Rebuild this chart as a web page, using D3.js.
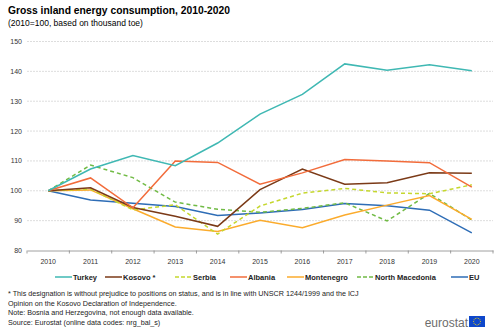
<!DOCTYPE html>
<html>
<head>
<meta charset="utf-8">
<script src="https://d3js.org/d3.v7.min.js"></script>
<style>
  body { margin: 0; background: #fff; }
  text { font-family: "Liberation Sans", Arial, sans-serif; }
</style>
</head>
<body>
<svg id="chart"></svg>
<script>
var years = ["2010","2011","2012","2013","2014","2015","2016","2017","2018","2019","2020"];
var yTicks = [80, 90, 100, 110, 120, 130, 140, 150];

var turkey      = [100, 107.3, 111.8, 108.4, 116.0, 125.7, 132.3, 142.5, 140.4, 142.2, 140.2];
var kosovo      = [100, 101.0, 94.4, 91.5, 88.1, 100.4, 107.3, 102.2, 102.7, 106.0, 105.9];
var serbia      = [100, 100.6, 93.6, 95.3, 85.5, 94.9, 99.2, 100.8, 99.3, 99.0, 102.0];
var albania     = [100, 104.3, 94.3, 110.0, 109.5, 102.2, 106.0, 110.5, 110.0, 109.4, 101.2];
var montenegro  = [100, 100.3, 94.0, 87.9, 86.4, 90.1, 87.6, 91.9, 95.2, 98.4, 90.4];
var nMacedonia  = [100, 108.6, 104.4, 96.2, 93.8, 92.8, 94.1, 96.0, 89.9, 99.1, 90.2];
var eu          = [100, 96.9, 95.8, 94.7, 91.7, 92.6, 93.7, 95.7, 95.0, 93.5, 85.9];

var seriesNames = ["Turkey", "Kosovo *", "Serbia", "Albania", "Montenegro", "North Macedonia", "EU"];
var seriesValues = [turkey, kosovo, serbia, albania, montenegro, nMacedonia, eu];
var seriesColors = ["#3fb8b3", "#7b3a17", "#c5d72e", "#f26c3b", "#fbab2c", "#71bb45", "#2e6db6"];
var seriesDashed = [false, false, true, false, false, true, false];

var footnotes = [
  "* This designation is without prejudice to positions on status, and is in line with UNSCR 1244/1999 and the ICJ",
  "Opinion on the Kosovo Declaration of Independence.",
  "Note: Bosnia and Herzegovina,  not enough data available.",
  "Source: Eurostat (online data codes: nrg_bal_s)"
];

var W = 500, H = 332;
var svg = d3.select("#chart").attr("width", W).attr("height", H);

// title block
svg.append("text").attr("x", 8).attr("y", 14)
  .style("font-size", "10.3px").style("font-weight", "bold").attr("fill", "#000")
  .text("Gross inland energy consumption, 2010-2020");
svg.append("text").attr("x", 8).attr("y", 26)
  .style("font-size", "8.5px").attr("fill", "#000")
  .text("(2010=100, based on thousand toe)");

var x = d3.scaleBand().domain(years).range([27, 493]).paddingInner(0).paddingOuter(0),
    y = d3.scaleLinear().domain([80, 150]).range([250.5, 41.5]);

function cx(yr) { return x(yr) + x.bandwidth() / 2; }

// grid
svg.append("g").selectAll("line")
  .data(yTicks.slice(1))
  .enter().append("line")
    .attr("x1", 27).attr("x2", 493)
    .attr("y1", function(d) { return y(d); })
    .attr("y2", function(d) { return y(d); })
    .attr("stroke", "#d4d4d4").attr("stroke-width", 0.8)
    .attr("stroke-dasharray", "2,1");

// y labels
svg.append("g").selectAll("text")
  .data(yTicks)
  .enter().append("text")
    .attr("x", 22)
    .attr("y", function(d) { return y(d); })
    .attr("dy", "0.35em")
    .attr("text-anchor", "end")
    .style("font-size", "7px").attr("fill", "#333")
    .text(function(d) { return d; });

// x axis
var xAxis = d3.axisBottom(x).tickSize(0).tickPadding(9);
var xg = svg.append("g").attr("transform", "translate(0," + y(80) + ")").call(xAxis);
xg.select(".domain").attr("stroke", "#888").attr("stroke-width", 0.8);
xg.selectAll("text").style("font-size", "7px").attr("fill", "#333")
  .style("font-family", "Liberation Sans, Arial, sans-serif");
xg.selectAll(".edge")
  .data(years.map(function(d) { return x(d); }).concat([x(years[years.length - 1]) + x.bandwidth()]))
  .enter().append("line").attr("class", "edge")
    .attr("x1", function(d) { return d; }).attr("x2", function(d) { return d; })
    .attr("y1", 0).attr("y2", 3)
    .attr("stroke", "#888").attr("stroke-width", 0.8);

// lines
var line = d3.line()
  .x(function(d, i) { return cx(years[i]); })
  .y(function(d) { return y(d); });

var drawOrder = [6, 5, 4, 2, 1, 3, 0];
svg.append("g").selectAll("path")
  .data(drawOrder)
  .enter().append("path")
    .attr("d", function(k) { return line(seriesValues[k]); })
    .attr("fill", "none")
    .attr("stroke", function(k) { return seriesColors[k]; })
    .attr("stroke-width", 1.5)
    .attr("stroke-dasharray", function(k) { return seriesDashed[k] ? "4,3" : null; });

// legend
var legendX = [55, 105, 175, 230, 287, 357, 451];
var lg = svg.append("g").attr("transform", "translate(0,277)");
var item = lg.selectAll("g").data(seriesNames)
  .enter().append("g")
    .attr("transform", function(d, i) { return "translate(" + legendX[i] + ",0)"; });
item.append("line")
  .attr("x1", 0).attr("x2", 17).attr("y1", 0).attr("y2", 0)
  .attr("stroke", function(d, i) { return seriesColors[i]; })
  .attr("stroke-width", 1.5)
  .attr("stroke-dasharray", function(d, i) { return seriesDashed[i] ? "4,2" : null; });
item.append("text")
  .attr("x", 18).attr("dy", "0.35em")
  .style("font-size", "7.5px").style("font-weight", "bold").attr("fill", "#222")
  .text(function(d) { return d; });

// footnotes
svg.append("g").selectAll("text")
  .data(footnotes)
  .enter().append("text")
    .attr("x", 8)
    .attr("y", function(d, i) { return 296 + i * 9.6; })
    .style("font-size", "7.2px").attr("fill", "#222")
    .text(function(d) { return d; });

// eurostat logo
svg.append("text").attr("x", 468).attr("y", 327)
  .attr("text-anchor", "end")
  .style("font-size", "12px").attr("fill", "#6d6d6d")
  .text("eurostat");
svg.append("rect").attr("x", 469).attr("y", 316).attr("width", 16).attr("height", 11)
  .attr("fill", "#0e47cb");
svg.append("g").selectAll("circle")
  .data(d3.range(12))
  .enter().append("circle")
    .attr("cx", function(d) { return 477 + 3.4 * Math.cos(d * Math.PI / 6); })
    .attr("cy", function(d) { return 321.5 + 3.4 * Math.sin(d * Math.PI / 6); })
    .attr("r", 0.5).attr("fill", "#ffdd00");
</script>
</body>
</html>
